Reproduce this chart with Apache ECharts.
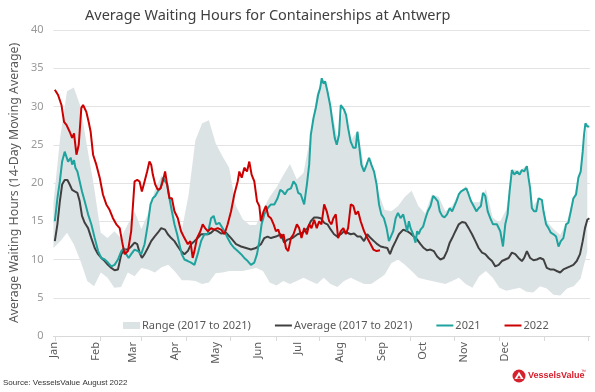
<!DOCTYPE html>
<html>
<head>
<meta charset="utf-8">
<script src="https://cdn.jsdelivr.net/npm/echarts@6/dist/echarts.min.js"></script>
<style>
html,body{margin:0;padding:0;background:#fff;}
#c{width:595px;height:392px;}
</style>
</head>
<body>
<div id="c"></div>
<script>
// ---- Data (day of year index, value in hours) ----
const monthNames = ['Jan','Feb','Mar','Apr','May','Jun','Jul','Aug','Sep','Oct','Nov','Dec'];
const monthStartDays = [0,31,59,90,120,151,181,212,243,273,304,334];

const bandDays = [0,5,10,15,20,25,30,35,40,45,50,55,60,65,70,75,80,85,90,95,100,105,110,115,120,125,130,
  135,140,145,150,155,160,165,170,175,180,185,190,195,200,205,210,215,220,225,230,235,240,245,250,255,
  260,265,270,275,280,285,290,295,300,305,310,315,320,325,330,335,340,345,350,355,360,365,370,375,380,385,390,395];
const rangeMax = [17.5,26,32,32.5,30,24.6,19.5,13.5,12.8,13.7,12.8,14.6,16.3,14,16,19.1,21,19.8,15.5,13.9,18.5,25.6,27.8,28.2,25.2,23.5,22,
  17,15.3,14.5,14.5,16.5,18.2,19.4,21,22.5,20.5,21.3,26,31.8,33.5,30.3,26,30,25.6,26.8,22,23,19,16.5,16.3,17,
  18.2,19,17,16,18.5,18.2,16.3,17,18.7,19.6,17.5,17.5,19.2,15.5,14.8,16.5,21.8,21.6,22.3,17,18.2,15,14,13.2,15,18.2,21.7,27.8];
const rangeMin = [11.5,12.4,13.5,12,9.8,7.2,6.5,8.3,7.6,6.3,6.4,8.3,7.8,8.9,8.7,8.3,9,9.3,8.4,7.3,7.3,7.2,6.8,7,8.2,8.3,8.5,
  8.5,8.5,8.7,8.9,8.5,7,6.6,7.2,6.8,7.2,7.6,7.2,6.8,7.6,6.8,6.4,7.2,7.6,7.2,6.8,6.8,7.4,8,9.5,10,
  9.3,8.5,7.6,7.4,7.2,7,6.8,7.2,7.6,6.8,6.3,7.8,8.5,7.6,6.3,5.9,6.1,6.3,5.8,5.7,6.5,6.2,5.4,5.3,6.2,6.5,7.5,11];

const avgDays = [1,2.9,4.7,6.4,8.3,10.3,12,13.8,15.7,17.7,19.4,21.1,23.1,25.6,28,30.5,33,35.4,37.9,40.3,42.8,45.2,47.7,50.2,52.6,55.1,57.5,60,62,63.7,65.4,67.4,69.8,72.3,74.8,77.2,79.7,80.9,82.6,84.6,87.1,89.5,92,94.4,96.9,99.4,101.8,104.3,106.7,109.2,111.7,114.1,116.6,119,121.5,
  124,127.7,131.4,135.1,138.8,142.5,146.1,149.8,153.5,156,158.4,160.9,164.6,168.3,170.7,173.2,176.9,180.6,184.3,188,190.4,192.9,195.3,197.8,200.3,202.7,205.2,207.6,210.1,212.6,215,217.5,219.9,222.4,224.9,227.3,229.8,232.2,234.7,237.2,239.6,242.1,244.5,247,249,250.7,253.2,255.6,
  258.8,261.7,264.2,266.6,269.1,271.6,274,276.5,279,281.4,283.9,286.3,288.8,291.2,293.2,295,297.4,299.9,302.3,304.8,307.2,309.7,312.2,314.6,317.1,319.5,322,324.5,326.9,329.4,331.8,334.3,336.8,339.2,341.7,344.1,346.6,348.3,350.3,352.7,355.2,357.7,360.1,362.6,365,367.5,370,372.4,374.9,377.3,379.8,382.3,384.7,387.2,389.6,391.6,393.3,395,396.5];
const avgVals = [12.4,14.6,17.6,19.8,20.4,20.4,19.8,19.1,18.9,18.7,17.6,15.7,14.8,14.1,12.8,11.5,10.7,10.2,9.8,9.3,8.9,8.6,8.7,10.7,11.3,11.3,11.7,12.2,12,10.9,10.2,10.7,11.5,12.4,13,13.5,14.1,14.3,13.9,13.3,12.8,12.4,11.7,11.1,10.7,11.1,12,12.4,12.8,13.3,13.3,13.3,13.5,13.9,13.7,
  13.4,13.5,12.8,12,11.7,11.5,11.3,11.5,12,12.8,13,12.8,13,13.3,12.2,12.6,12.8,13.3,13.5,14.1,15,15.5,15.5,15.4,14.8,14.6,13.9,13.3,13,13.3,13.7,13.5,13.3,13.4,13,13,12.4,13.3,12.8,12.4,12,11.7,11.6,11.5,10.7,11.5,12.4,13.3,
  13.9,13.7,13.4,13,12.6,12,11.5,11.2,11.3,11.1,10.4,10,10.2,11.1,12.2,12.8,13.7,14.6,14.9,14.8,14.1,13.3,12.4,11.5,10.9,10.7,10.2,9.8,9.1,9.3,9.8,10,10.2,10.9,10.7,10.2,9.8,10.2,11.1,10.2,9.9,10,10.2,10,8.9,8.7,8.7,8.5,8.3,8.7,8.9,9.1,9.3,9.8,10.7,12.4,14.1,15.2,15.4];

const days2021 = [1,2.9,4.7,6.4,8.3,9.6,10.8,12.8,13.8,15.2,16.2,17.7,19.4,21.1,23.1,25.6,28,30.5,33,35.4,37.9,40.3,42.8,45.2,47.7,50.2,52.1,53.8,55.6,57.5,60,62.5,64.9,67.4,69.8,71.8,73.5,75.3,77.2,79.2,80.9,82.1,84.1,85.8,87.6,89.5,91.5,93.2,94.9,96.9,99.4,101.8,104.3,106.7,109.2,111.7,114.1,116.6,118.5,120.3,122.7,
  124,126.5,128.9,131.4,133.8,136.3,138.8,141.2,143.7,146.1,148.6,150.6,152.3,154,156,158.4,160.9,163.4,165.8,167.8,169.5,171.2,173.2,175.7,177.6,179.4,181.1,183,185.5,187.5,189.2,190.4,192.4,194.1,195.8,197.3,198.5,199.8,201,202.7,204.7,206.4,208.1,209.6,211.3,212.6,213.8,215,216.5,218,219.9,221.9,223.6,224.9,226.1,227.8,229.8,231.7,233.5,235.2,237.2,239.1,240.9,242.6,244.5,246.5,248.2,249.5,251.4,253.2,254.9,
  256.8,258.8,260.5,261.7,263,264.2,266.1,267.9,269.1,270.3,271.6,273.5,275.3,277,279,280.9,282.6,284.4,285.8,287.6,289.3,291.2,293.2,295,296.7,298.1,299.9,301.6,303.5,305.5,307.2,309,310.9,312.9,314.6,316.3,317.8,319.5,321.3,323.2,325.2,328.1,330.6,332.6,334.3,336,337.5,339.2,341,342.9,344.9,346.6,348.3,350.3,351.5,352.7,354,355.7,357.2,358.9,361.4,362.6,364.5,366.3,368,370,371.9,373.7,375.4,377.3,379.3,381,382.8,384.7,386.7,388.4,390.1,391.6,392.6,393.6,395,396.5];
const vals2021 = [15,18,20.2,22.8,24.1,23.9,22.8,23.3,22.4,23,22,21.5,20.2,18.9,17.6,15.9,14.6,12.8,11.1,10.2,10,9.6,9.1,9.3,10,11.1,11.5,10.7,10.2,10.7,11.3,11.1,10.7,12,14.6,17.2,18,18.3,18.9,19.3,20.7,20.9,19.8,18,16.3,14.6,13.3,12,10.7,10,9.8,9.6,9.3,10.7,12.4,13.3,13.3,15.4,15.7,14.6,14.8,
  14.6,13.7,12.8,12,11.5,11.1,10.7,10.2,9.8,9.3,9.6,10.7,12.4,14.6,15.9,16.7,17.2,17.2,18,19.1,18.9,18.5,19.1,19.3,20.2,19.8,18.7,18.5,17.2,19.8,22.4,26.3,28.5,29.8,31.5,32.4,33.7,33,33.3,32,30.2,28,25.9,25,26.3,30.2,30.2,29.6,28.9,27.2,25.4,24.6,24.6,26.7,25,22.4,21.5,22.4,23.3,22.4,21.5,19.8,17.2,15.9,15.4,14.1,12.4,12.2,13.7,15.4,16.1,
  15.4,15.9,14.6,13.7,15,14.1,13.3,12.2,13.7,13.3,13.9,14.3,15.4,16.3,17,18.3,18,17.6,16.3,15.7,15.5,15.9,16.7,16.3,17,17.6,18.5,18.9,19.1,19.3,18.5,17.6,17,16.3,16.7,17,18.7,18.3,16.3,15.4,14.6,14.6,13.7,11.7,14.6,15.9,18.9,21.7,21.1,21.5,21.1,21.7,21.5,22.2,20.7,19.3,16.7,16.3,16.3,18,17.8,16.3,14.6,14.1,13.5,13.3,13,11.7,12.4,12.8,14.6,14.8,16.3,18,18.5,20.7,21.5,24.1,26.3,27.8,27.4,27.4];

const days2022 = [1,3.4,5.9,7.8,9.6,12,13.8,15.2,17,18.7,20.6,21.9,23.1,24.3,26,27.5,29.3,31.7,34.2,36.6,39.1,41.5,44,46.5,49,50.7,52.6,55.1,57.5,60,62,63.7,65.4,67.4,69.3,71,72.3,73.5,75.3,77.2,79.2,80.9,82.6,84.1,85.8,87.6,89.5,92,94.4,96.9,99.4,101.3,103,104.3,106.2,108.7,110.4,112.2,114.1,116.6,119,121.5,124,
  126.5,128.9,131.4,133.8,136.3,137.5,139.3,141.2,143.2,144.9,146.6,148.6,150.6,152.3,153.5,155.5,157.2,158.9,160.9,162.9,164.6,166.3,168.3,170.2,172,173.7,175.7,177.6,180.1,181.8,183.5,185.5,187.5,189.2,190.9,192.9,194.8,196.6,198.3,200.3,202.2,204,205.7,207.1,208.9,210.6,212.6,214.5,216.3,218,220,221.9,223.6,225.4,227.3,229.8,232.2,234.7,236.7,239.1,241.6];
const vals2022 = [32.2,31.5,30.2,28,27.6,26.7,25.9,26.5,23.7,25,29.8,30.2,30.4,29.3,28,26.7,23.7,22.4,20.7,18.5,17.2,16.5,15.4,14.6,14.1,12.4,10.7,11.1,13.7,20.2,20.4,20.2,18.9,20.2,21.5,22.8,22.4,21.1,19.8,19.1,19.3,20.2,21.5,19.8,18,18,16.3,15.4,13.7,12.8,12,12.4,10.2,11.1,12.8,13.7,14.6,14.1,13.7,14.1,13.9,14.1,13.9,
  13.3,14.6,16.3,18.5,20.2,21.5,20.7,22,21.5,22.8,21.1,20.2,17.6,17,15,16.3,17,15.7,15.4,14.6,13.7,13.9,12.8,13.3,11.5,11.1,12.8,13.3,14.6,14.1,12.8,14.1,13.3,14.6,14.1,15.2,14.1,15,14.6,17.2,16.3,15,14.6,15.4,15.9,12.8,13.7,14.1,13.3,14.1,17.2,17,15.9,16.3,15,13.7,12.8,12,11.3,11.1,11.2];

const xTickDays = [1.5,34.5,65,98,130.5,164.5,197,230.5,264,296.5,330,363,395.5];

function pairs(xs, ys){ return xs.map((x,i)=>[x, ys[i]]); }
const bandData = bandDays.map((d,i)=>[d, rangeMin[i], rangeMax[i]]);

const FONT = 'Noto Sans';
const LINE_ICON = 'path://M0,0H34V4H0Z';
const chart = echarts.init(document.getElementById('c'), null, {renderer:'canvas'});
chart.setOption({
  animation:false,
  backgroundColor:'#ffffff',
  title:{
    text:'Average Waiting Hours for Containerships at Antwerp',
    left:80, top:3,
    textStyle:{fontFamily:FONT, fontSize:14.5, fontWeight:'normal', color:'#404040'}
  },
  grid:{left:52, right:5, top:30, bottom:56, containLabel:false},
  legend:{
    left:118, top:315,
    itemGap:24, itemWidth:17, itemHeight:7,
    textStyle:{fontFamily:FONT, fontSize:11, color:'#595959', padding:[0,0,0,-3]},
    data:[{name:'Range (2017 to 2021)', icon:'rect'},
          {name:'Average (2017 to 2021)', icon:LINE_ICON},
          {name:'2021', icon:LINE_ICON},
          {name:'2022', icon:LINE_ICON}]
  },
  xAxis:{
    type:'value', min:0, max:397,
    axisLine:{show:true, lineStyle:{color:'#d9d9d9', width:1}},
    axisTick:{show:true, length:5, lineStyle:{color:'#d9d9d9'}, customValues:xTickDays},
    splitLine:{show:false},
    axisLabel:{
      rotate:90, margin:6, color:'#595959', fontFamily:FONT, fontSize:11,
      customValues:monthStartDays,
      formatter:function(v){ const i = monthStartDays.indexOf(v); return i>=0 ? monthNames[i] : ''; }
    }
  },
  yAxis:{
    type:'value', min:0, max:40, interval:5,
    name:'Average Waiting Hours (14-Day Moving Average)',
    nameLocation:'middle', nameGap:32, nameRotate:90,
    nameTextStyle:{fontFamily:FONT, fontSize:12.3, color:'#595959'},
    axisLine:{show:false}, axisTick:{show:false},
    splitLine:{lineStyle:{color:'#e3e3e3', width:1}},
    axisLabel:{color:'#999999', fontFamily:FONT, fontSize:11, margin:10}
  },
  series:[
    {name:'Range (2017 to 2021)', type:'custom', silent:true,
     itemStyle:{color:'#dce3e5'},
     encode:{x:0, y:[1,2]},
     data:bandData,
     renderItem:function(params, api){
       if (params.dataIndex !== 0) return null;
       const top = bandData.map(p=>api.coord([p[0], p[2]]));
       const bot = bandData.map(p=>api.coord([p[0], p[1]])).reverse();
       return {type:'polygon', shape:{points:top.concat(bot)}, style:{fill:'#dce3e5'}};
     }},
    {name:'Average (2017 to 2021)', type:'line', symbol:'none', itemStyle:{color:'#404040'},
     lineStyle:{color:'#404040', width:2}, data:pairs(avgDays, avgVals)},
    {name:'2021', type:'line', symbol:'none', itemStyle:{color:'#1fa39e'},
     lineStyle:{color:'#1fa39e', width:2}, data:pairs(days2021, vals2021)},
    {name:'2022', type:'line', symbol:'none', itemStyle:{color:'#cc0000'},
     lineStyle:{color:'#cc0000', width:2}, data:pairs(days2022, vals2022)}
  ],
  graphic:[
    {type:'text', left:3, top:379, style:{text:'Source: VesselsValue August 2022', font:'8px "Liberation Sans"', fill:'#333333'}},
    {type:'circle', shape:{cx:519, cy:376, r:6.5}, style:{fill:'#d7202e'}},
    {type:'polygon', shape:{points:[[519,371.8],[523.5,379],[514.5,379]]}, style:{fill:'#ffffff'}},
    {type:'polygon', shape:{points:[[519,375.2],[521,378.4],[517,378.4]]}, style:{fill:'#d7202e'}},
    {type:'text', left:528, top:371, style:{text:'VesselsValue', font:'bold 9px "Liberation Sans"', fill:'#d7202e'}},
    {type:'text', left:581, top:369, style:{text:'™', font:'5px "Liberation Sans"', fill:'#d7202e'}}
  ]
});
</script>
</body>
</html>
